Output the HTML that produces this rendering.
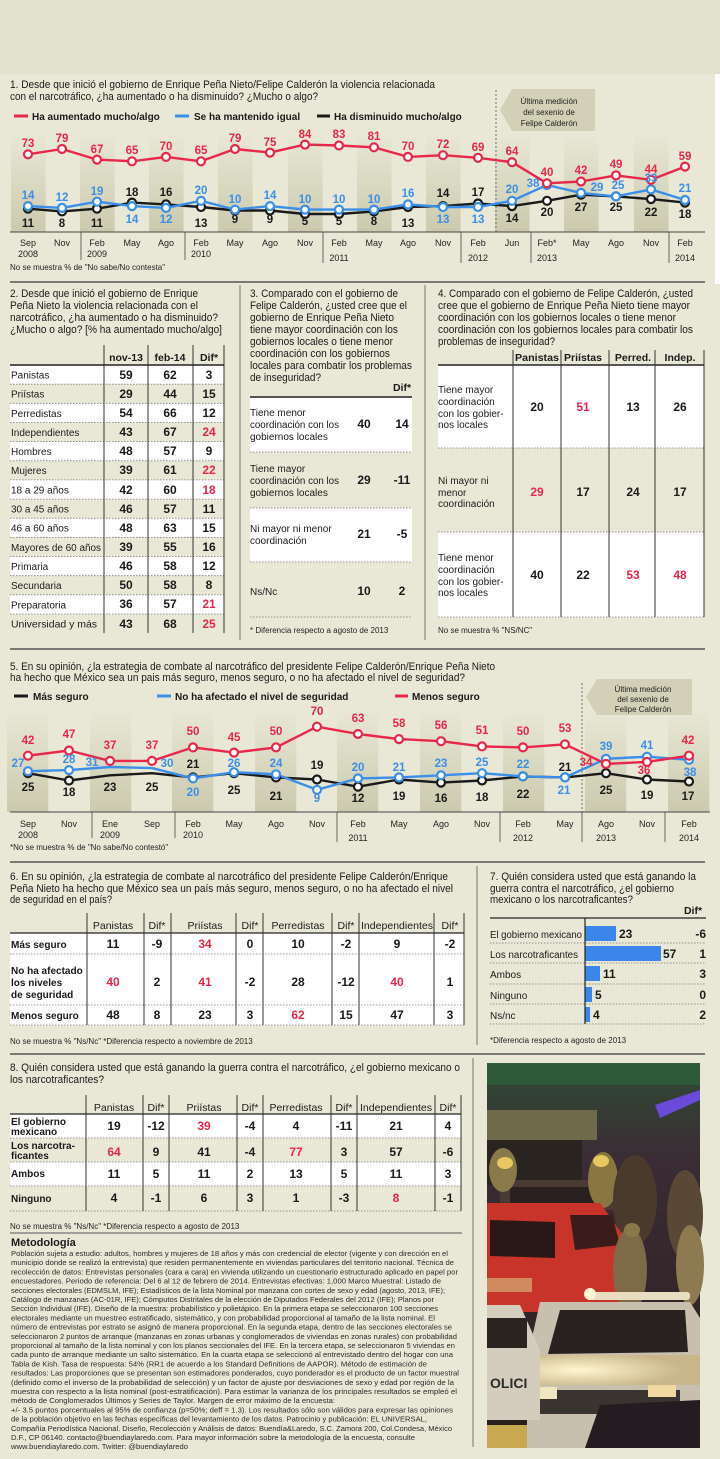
<!DOCTYPE html>
<html><head><meta charset="utf-8">
<style>
html,body{margin:0;padding:0;background:#e9e8d7;}
svg{display:block;font-family:"Liberation Sans Narrow","Liberation Sans",sans-serif;}
.t{font-size:11px;fill:#1a1a1a;}
.v{font-size:11.5px;font-weight:bold;text-anchor:middle;}
.m{font-size:9px;text-anchor:middle;fill:#222;}
.n{font-size:8px;fill:#222;}
.lg{font-size:10px;font-weight:bold;fill:#1a1a1a;}
.tb{font-size:10px;fill:#1a1a1a;}
.tv{font-size:12px;font-weight:bold;text-anchor:middle;fill:#1a1a1a;}
.th{font-size:10.5px;text-anchor:middle;fill:#1a1a1a;}
.me{font-size:7.6px;fill:#2a2a2a;}
text.r{fill:#e8274b;}text.b{fill:#3b8fe8;}text.k{fill:#1a1a1a;}
</style></head>
<body>
<svg width="720" height="1459" viewBox="0 0 720 1459" xmlns="http://www.w3.org/2000/svg">
<defs>
<linearGradient id="bd" x1="0" y1="0" x2="0" y2="1"><stop offset="0" stop-color="#e8e7d5"/><stop offset="1" stop-color="#cbcaae"/></linearGradient>
<linearGradient id="ph" x1="0" y1="0" x2="0" y2="1"><stop offset="0" stop-color="#2f4a34"/><stop offset="0.25" stop-color="#3b2c35"/><stop offset="1" stop-color="#2a1e1c"/></linearGradient>
<radialGradient id="glow" cx="0.3" cy="0.5" r="0.6"><stop offset="0" stop-color="#fff6d0"/><stop offset="1" stop-color="#c9b68a"/></radialGradient>
</defs>
<rect x="0" y="0" width="720" height="74" fill="#e3e2cf"/>
<rect x="715" y="74" width="5" height="210" fill="#fff"/>

<!-- ===== CHART 1 ===== -->
<text class="t" x="10" y="88" textLength="425" lengthAdjust="spacingAndGlyphs">1. Desde que inició el gobierno de Enrique Peña Nieto/Felipe Calderón la violencia relacionada</text>
<text class="t" x="10" y="100" textLength="308" lengthAdjust="spacingAndGlyphs">con el narcotráfico, ¿ha aumentado o ha disminuido? ¿Mucho o algo?</text>
<line x1="14" y1="116" x2="28" y2="116" stroke="#e8274b" stroke-width="3"/>
<text class="lg" x="32" y="120">Ha aumentado mucho/algo</text>
<line x1="175" y1="116" x2="189" y2="116" stroke="#3b8fe8" stroke-width="3"/>
<text class="lg" x="194" y="120">Se ha mantenido igual</text>
<line x1="317" y1="116" x2="330" y2="116" stroke="#1a1a1a" stroke-width="3"/>
<text class="lg" x="334" y="120">Ha disminuido mucho/algo</text>
<g fill="url(#bd)">
<rect x="11" y="135" width="34.6" height="97"/><rect x="80" y="135" width="34.6" height="97"/><rect x="149" y="135" width="34.6" height="97"/><rect x="218" y="135" width="34.6" height="97"/><rect x="288" y="135" width="34.6" height="97"/><rect x="357" y="135" width="34.6" height="97"/><rect x="426" y="135" width="34.6" height="97"/><rect x="495" y="135" width="34.6" height="97"/><rect x="564" y="135" width="34.6" height="97"/><rect x="634" y="135" width="34.6" height="97"/>
</g>
<line x1="496" y1="90" x2="496" y2="232" stroke="#555" stroke-width="0.8" stroke-dasharray="2,2"/>
<polygon points="500,110 512,89 595,89 595,131 512,131" fill="#d2d0b6"/>
<text class="n" x="549" y="104" text-anchor="middle" font-size="8.5">Última medición</text>
<text class="n" x="549" y="115" text-anchor="middle" font-size="8.5">del sexenio de</text>
<text class="n" x="549" y="126" text-anchor="middle" font-size="8.5">Felipe Calderón</text>
<line x1="10" y1="232" x2="705" y2="232" stroke="#444" stroke-width="1"/>
<g stroke="#444" stroke-width="0.8"><line x1="81" y1="232" x2="81" y2="260"/><line x1="185" y1="232" x2="185" y2="260"/><line x1="323" y1="232" x2="323" y2="263"/><line x1="461" y1="232" x2="461" y2="263"/><line x1="531" y1="232" x2="531" y2="263"/><line x1="669" y1="232" x2="669" y2="263"/></g>
<g class="m">
<text class="m" x="28" y="246">Sep</text><text class="m" x="62" y="246">Nov</text><text class="m" x="97" y="246">Feb</text><text class="m" x="132" y="246">May</text><text class="m" x="166" y="246">Ago</text><text class="m" x="201" y="246">Feb</text><text class="m" x="235" y="246">May</text><text class="m" x="270" y="246">Ago</text><text class="m" x="305" y="246">Nov</text><text class="m" x="339" y="246">Feb</text><text class="m" x="374" y="246">May</text><text class="m" x="408" y="246">Ago</text><text class="m" x="443" y="246">Nov</text><text class="m" x="478" y="246">Feb</text><text class="m" x="512" y="246">Jun</text><text class="m" x="547" y="246">Feb*</text><text class="m" x="581" y="246">May</text><text class="m" x="616" y="246">Ago</text><text class="m" x="651" y="246">Nov</text><text class="m" x="685" y="246">Feb</text>
<text class="m" x="28" y="257">2008</text><text class="m" x="97" y="257">2009</text><text class="m" x="201" y="257">2010</text><text class="m" x="339" y="261">2011</text><text class="m" x="478" y="261">2012</text><text class="m" x="547" y="261">2013</text><text class="m" x="685" y="261">2014</text>
</g>
<text class="n" x="10" y="270">No se muestra % de "No sabe/No contesta"</text>
<g fill="none" stroke-width="2.4" stroke-linejoin="round">
<polyline stroke="#1a1a1a" points="28,208.7 62,211.4 97,208.7 132,202.6 166,204.4 201,207 235,210.5 270,210.5 305,214 339,214 374,211.4 408,207 443,206.1 478,203.5 512,206.1 547,200.8 581,194.7 616,196.4 651,199.1 685,202.6"/>
<polyline stroke="#3b8fe8" points="28,206.1 62,207.9 97,201.7 132,206.1 166,207.9 201,200.8 235,209.6 270,206.1 305,209.6 339,209.6 374,209.6 408,204.4 443,207 478,207 512,200.8 547,185 581,192.9 616,196.4 651,189.4 685,200"/>
<polyline stroke="#e8274b" points="28,154.3 62,149 97,159.6 132,161.3 166,156.9 201,161.3 235,149 270,152.6 305,144.6 339,145.5 374,147.3 408,156.9 443,155.2 478,157.8 512,162.2 547,183.3 581,181.5 616,175.4 651,179.8 685,166.6"/>
</g>
<g fill="#fff" stroke-width="2.2">
<g stroke="#1a1a1a"><circle cx="28" cy="208.7" r="4"/><circle cx="62" cy="211.4" r="4"/><circle cx="97" cy="208.7" r="4"/><circle cx="132" cy="202.6" r="4"/><circle cx="166" cy="204.4" r="4"/><circle cx="201" cy="207" r="4"/><circle cx="235" cy="210.5" r="4"/><circle cx="270" cy="210.5" r="4"/><circle cx="305" cy="214" r="4"/><circle cx="339" cy="214" r="4"/><circle cx="374" cy="211.4" r="4"/><circle cx="408" cy="207" r="4"/><circle cx="443" cy="206.1" r="4"/><circle cx="478" cy="203.5" r="4"/><circle cx="512" cy="206.1" r="4"/><circle cx="547" cy="200.8" r="4"/><circle cx="581" cy="194.7" r="4"/><circle cx="616" cy="196.4" r="4"/><circle cx="651" cy="199.1" r="4"/><circle cx="685" cy="202.6" r="4"/></g>
<g stroke="#3b8fe8"><circle cx="28" cy="206.1" r="4"/><circle cx="62" cy="207.9" r="4"/><circle cx="97" cy="201.7" r="4"/><circle cx="132" cy="206.1" r="4"/><circle cx="166" cy="207.9" r="4"/><circle cx="201" cy="200.8" r="4"/><circle cx="235" cy="209.6" r="4"/><circle cx="270" cy="206.1" r="4"/><circle cx="305" cy="209.6" r="4"/><circle cx="339" cy="209.6" r="4"/><circle cx="374" cy="209.6" r="4"/><circle cx="408" cy="204.4" r="4"/><circle cx="443" cy="207" r="4"/><circle cx="478" cy="207" r="4"/><circle cx="512" cy="200.8" r="4"/><circle cx="547" cy="185" r="4"/><circle cx="581" cy="192.9" r="4"/><circle cx="616" cy="196.4" r="4"/><circle cx="651" cy="189.4" r="4"/><circle cx="685" cy="200" r="4"/></g>
<g stroke="#e8274b"><circle cx="28" cy="154.3" r="4"/><circle cx="62" cy="149" r="4"/><circle cx="97" cy="159.6" r="4"/><circle cx="132" cy="161.3" r="4"/><circle cx="166" cy="156.9" r="4"/><circle cx="201" cy="161.3" r="4"/><circle cx="235" cy="149" r="4"/><circle cx="270" cy="152.6" r="4"/><circle cx="305" cy="144.6" r="4"/><circle cx="339" cy="145.5" r="4"/><circle cx="374" cy="147.3" r="4"/><circle cx="408" cy="156.9" r="4"/><circle cx="443" cy="155.2" r="4"/><circle cx="478" cy="157.8" r="4"/><circle cx="512" cy="162.2" r="4"/><circle cx="547" cy="183.3" r="4"/><circle cx="581" cy="181.5" r="4"/><circle cx="616" cy="175.4" r="4"/><circle cx="651" cy="179.8" r="4"/><circle cx="685" cy="166.6" r="4"/></g>
</g>
<g class="v">
<text class="v r" x="28" y="147">73</text><text class="v r" x="62" y="142">79</text><text class="v r" x="97" y="153">67</text><text class="v r" x="132" y="154">65</text><text class="v r" x="166" y="150">70</text><text class="v r" x="201" y="154">65</text><text class="v r" x="235" y="142">79</text><text class="v r" x="270" y="146">75</text><text class="v r" x="305" y="138">84</text><text class="v r" x="339" y="138">83</text><text class="v r" x="374" y="140">81</text><text class="v r" x="408" y="150">70</text><text class="v r" x="443" y="148">72</text><text class="v r" x="478" y="151">69</text><text class="v r" x="512" y="155">64</text><text class="v r" x="547" y="176">40</text><text class="v r" x="581" y="174">42</text><text class="v r" x="616" y="168">49</text><text class="v r" x="651" y="173">44</text><text class="v r" x="685" y="160">59</text>
<text class="v b" x="28" y="199">14</text><text class="v b" x="62" y="201">12</text><text class="v b" x="97" y="195">19</text><text class="v b" x="132" y="223">14</text><text class="v b" x="166" y="223">12</text><text class="v b" x="201" y="194">20</text><text class="v b" x="235" y="203">10</text><text class="v b" x="270" y="199">14</text><text class="v b" x="305" y="203">10</text><text class="v b" x="339" y="203">10</text><text class="v b" x="374" y="203">10</text><text class="v b" x="408" y="197">16</text><text class="v b" x="443" y="223">13</text><text class="v b" x="478" y="223">13</text><text class="v b" x="512" y="193">20</text><text class="v b" x="533" y="187">38</text><text class="v b" x="597" y="191">29</text><text class="v b" x="618" y="189">25</text><text class="v b" x="651" y="182">33</text><text class="v b" x="685" y="192">21</text>
<text class="v k" x="28" y="227">11</text><text class="v k" x="62" y="227">8</text><text class="v k" x="97" y="227">11</text><text class="v k" x="132" y="196">18</text><text class="v k" x="166" y="196">16</text><text class="v k" x="201" y="227">13</text><text class="v k" x="235" y="223">9</text><text class="v k" x="270" y="223">9</text><text class="v k" x="305" y="225">5</text><text class="v k" x="339" y="225">5</text><text class="v k" x="374" y="225">8</text><text class="v k" x="408" y="227">13</text><text class="v k" x="443" y="197">14</text><text class="v k" x="478" y="196">17</text><text class="v k" x="512" y="222">14</text><text class="v k" x="547" y="216">20</text><text class="v k" x="581" y="211">27</text><text class="v k" x="616" y="211">25</text><text class="v k" x="651" y="216">22</text><text class="v k" x="685" y="218">18</text>
</g>

<!-- ===== SECTION 2-4 ===== -->
<line x1="10" y1="282" x2="705" y2="282" stroke="#555" stroke-width="1.5"/>
<line x1="240" y1="285" x2="240" y2="640" stroke="#555" stroke-width="0.8"/>
<line x1="425" y1="285" x2="425" y2="640" stroke="#555" stroke-width="0.8"/>
<text class="t" x="10" y="297" textLength="188" lengthAdjust="spacingAndGlyphs">2. Desde que inició el gobierno de Enrique</text>
<text class="t" x="10" y="309" textLength="188" lengthAdjust="spacingAndGlyphs">Peña Nieto la violencia relacionada con el</text>
<text class="t" x="10" y="321" textLength="208" lengthAdjust="spacingAndGlyphs">narcotráfico, ¿ha aumentado o ha disminuido?</text>
<text class="t" x="10" y="333" textLength="212" lengthAdjust="spacingAndGlyphs">¿Mucho o algo? [% ha aumentado mucho/algo]</text>
<g>
<rect x="10" y="365" width="214" height="19.15" fill="#fff"/><rect x="10" y="403.3" width="214" height="19.15" fill="#fff"/><rect x="10" y="441.6" width="214" height="19.15" fill="#fff"/><rect x="10" y="479.9" width="214" height="19.15" fill="#fff"/><rect x="10" y="518.2" width="214" height="19.15" fill="#fff"/><rect x="10" y="556.5" width="214" height="19.15" fill="#fff"/><rect x="10" y="594.8" width="214" height="19.15" fill="#fff"/>
</g>
<g stroke="#777" stroke-width="0.8" stroke-dasharray="1.5,1.5">
<line x1="10" y1="384.2" x2="224" y2="384.2"/><line x1="10" y1="403.3" x2="224" y2="403.3"/><line x1="10" y1="422.5" x2="224" y2="422.5"/><line x1="10" y1="441.6" x2="224" y2="441.6"/><line x1="10" y1="460.8" x2="224" y2="460.8"/><line x1="10" y1="479.9" x2="224" y2="479.9"/><line x1="10" y1="499.1" x2="224" y2="499.1"/><line x1="10" y1="518.2" x2="224" y2="518.2"/><line x1="10" y1="537.4" x2="224" y2="537.4"/><line x1="10" y1="556.5" x2="224" y2="556.5"/><line x1="10" y1="575.7" x2="224" y2="575.7"/><line x1="10" y1="594.8" x2="224" y2="594.8"/><line x1="10" y1="614" x2="224" y2="614"/>
</g>
<g stroke="#333" stroke-width="1"><line x1="104" y1="345" x2="104" y2="633"/><line x1="148" y1="345" x2="148" y2="633"/><line x1="193" y1="345" x2="193" y2="633"/><line x1="224" y1="345" x2="224" y2="633"/></g>
<line x1="10" y1="365" x2="224" y2="365" stroke="#222" stroke-width="1.5"/>
<text class="th" x="126" y="361" font-weight="bold">nov-13</text><text class="th" x="170" y="361" font-weight="bold">feb-14</text><text class="th" x="209" y="361" font-weight="bold">Dif*</text>
<g>
<text x="11" y="378.5" class="tb">Panistas</text><text x="11" y="397.6" class="tb">Priístas</text><text x="11" y="416.8" class="tb">Perredistas</text><text x="11" y="435.9" class="tb">Independientes</text><text x="11" y="455.1" class="tb">Hombres</text><text x="11" y="474.2" class="tb">Mujeres</text><text x="11" y="493.4" class="tb">18 a 29 años</text><text x="11" y="512.5" class="tb">30 a 45 años</text><text x="11" y="531.7" class="tb">46 a 60 años</text><text x="11" y="550.8" class="tb" textLength="90" lengthAdjust="spacingAndGlyphs">Mayores de 60 años</text><text x="11" y="570" class="tb">Primaria</text><text x="11" y="589.1" class="tb">Secundaria</text><text x="11" y="608.3" class="tb">Preparatoria</text><text x="11" y="627.4" class="tb" textLength="86" lengthAdjust="spacingAndGlyphs">Universidad y más</text>
</g>
<g>
<text class="tv" x="126" y="379">59</text><text class="tv" x="170" y="379">62</text><text class="tv" x="209" y="379">3</text>
<text class="tv" x="126" y="398">29</text><text class="tv" x="170" y="398">44</text><text class="tv" x="209" y="398">15</text>
<text class="tv" x="126" y="417">54</text><text class="tv" x="170" y="417">66</text><text class="tv" x="209" y="417">12</text>
<text class="tv" x="126" y="436">43</text><text class="tv" x="170" y="436">67</text><text class="tv r" x="209" y="436">24</text>
<text class="tv" x="126" y="455">48</text><text class="tv" x="170" y="455">57</text><text class="tv" x="209" y="455">9</text>
<text class="tv" x="126" y="474">39</text><text class="tv" x="170" y="474">61</text><text class="tv r" x="209" y="474">22</text>
<text class="tv" x="126" y="494">42</text><text class="tv" x="170" y="494">60</text><text class="tv r" x="209" y="494">18</text>
<text class="tv" x="126" y="513">46</text><text class="tv" x="170" y="513">57</text><text class="tv" x="209" y="513">11</text>
<text class="tv" x="126" y="532">48</text><text class="tv" x="170" y="532">63</text><text class="tv" x="209" y="532">15</text>
<text class="tv" x="126" y="551">39</text><text class="tv" x="170" y="551">55</text><text class="tv" x="209" y="551">16</text>
<text class="tv" x="126" y="570">46</text><text class="tv" x="170" y="570">58</text><text class="tv" x="209" y="570">12</text>
<text class="tv" x="126" y="589">50</text><text class="tv" x="170" y="589">58</text><text class="tv" x="209" y="589">8</text>
<text class="tv" x="126" y="608">36</text><text class="tv" x="170" y="608">57</text><text class="tv r" x="209" y="608">21</text>
<text class="tv" x="126" y="628">43</text><text class="tv" x="170" y="628">68</text><text class="tv r" x="209" y="628">25</text>
</g>

<!-- Section 3 -->
<text class="t" x="250" y="297" textLength="148" lengthAdjust="spacingAndGlyphs">3. Comparado con el gobierno de</text>
<text class="t" x="250" y="309" textLength="157" lengthAdjust="spacingAndGlyphs">Felipe Calderón, ¿usted cree que el</text>
<text class="t" x="250" y="321" textLength="144" lengthAdjust="spacingAndGlyphs">gobierno de Enrique Peña Nieto</text>
<text class="t" x="250" y="333" textLength="148" lengthAdjust="spacingAndGlyphs">tiene mayor coordinación con los</text>
<text class="t" x="250" y="345" textLength="143" lengthAdjust="spacingAndGlyphs">gobiernos locales o tiene menor</text>
<text class="t" x="250" y="357" textLength="140" lengthAdjust="spacingAndGlyphs">coordinación con los gobiernos</text>
<text class="t" x="250" y="369" textLength="162" lengthAdjust="spacingAndGlyphs">locales para combatir los problemas</text>
<text class="t" x="250" y="381" textLength="71" lengthAdjust="spacingAndGlyphs">de inseguridad?</text>
<text class="th" x="402" y="391" font-weight="bold">Dif*</text>
<rect x="250" y="397" width="162" height="55" fill="#fff"/><rect x="250" y="508" width="162" height="54" fill="#fff"/>
<line x1="250" y1="397" x2="412" y2="397" stroke="#222" stroke-width="1.5"/>
<g stroke="#777" stroke-width="0.8" stroke-dasharray="1.5,1.5"><line x1="250" y1="452" x2="412" y2="452"/><line x1="250" y1="508" x2="412" y2="508"/><line x1="250" y1="562" x2="412" y2="562"/><line x1="250" y1="617" x2="412" y2="617"/></g>
<text class="tb" x="250" y="416">Tiene menor</text><text class="tb" x="250" y="428" textLength="89" lengthAdjust="spacingAndGlyphs">coordinación con los</text><text class="tb" x="250" y="440">gobiernos locales</text>
<text class="tv" x="364" y="428">40</text><text class="tv" x="402" y="428">14</text>
<text class="tb" x="250" y="472">Tiene mayor</text><text class="tb" x="250" y="484" textLength="89" lengthAdjust="spacingAndGlyphs">coordinación con los</text><text class="tb" x="250" y="496">gobiernos locales</text>
<text class="tv" x="364" y="484">29</text><text class="tv" x="402" y="484">-11</text>
<text class="tb" x="250" y="532">Ni mayor ni menor</text><text class="tb" x="250" y="544">coordinación</text>
<text class="tv" x="364" y="538">21</text><text class="tv" x="402" y="538">-5</text>
<text class="tb" x="250" y="595">Ns/Nc</text>
<text class="tv" x="364" y="595">10</text><text class="tv" x="402" y="595">2</text>
<text class="n" x="250" y="633">* Diferencia respecto a agosto de 2013</text>

<!-- Section 4 -->
<text class="t" x="438" y="297" textLength="255" lengthAdjust="spacingAndGlyphs">4. Comparado con el gobierno de Felipe Calderón, ¿usted</text>
<text class="t" x="438" y="309" textLength="252" lengthAdjust="spacingAndGlyphs">cree que el gobierno de Enrique Peña Nieto tiene mayor</text>
<text class="t" x="438" y="321" textLength="238" lengthAdjust="spacingAndGlyphs">coordinación con los gobiernos locales o tiene menor</text>
<text class="t" x="438" y="333" textLength="255" lengthAdjust="spacingAndGlyphs">coordinación con los gobiernos locales para combatir los</text>
<text class="t" x="438" y="345" textLength="117" lengthAdjust="spacingAndGlyphs">problemas de inseguridad?</text>
<rect x="438" y="365" width="266" height="83" fill="#fff"/><rect x="438" y="532" width="266" height="85" fill="#fff"/>
<line x1="438" y1="365" x2="704" y2="365" stroke="#222" stroke-width="1.5"/>
<g stroke="#777" stroke-width="0.8" stroke-dasharray="1.5,1.5"><line x1="438" y1="448" x2="704" y2="448"/><line x1="438" y1="532" x2="704" y2="532"/><line x1="438" y1="617" x2="704" y2="617"/></g>
<g stroke="#333" stroke-width="1"><line x1="513" y1="350" x2="513" y2="617"/><line x1="561" y1="350" x2="561" y2="617"/><line x1="609" y1="350" x2="609" y2="617"/><line x1="655" y1="350" x2="655" y2="617"/><line x1="704" y1="350" x2="704" y2="617"/></g>
<text class="th" x="537" y="361" font-weight="bold" textLength="44" lengthAdjust="spacingAndGlyphs">Panistas</text><text class="th" x="583" y="361" font-weight="bold">Priístas</text><text class="th" x="633" y="361" font-weight="bold">Perred.</text><text class="th" x="680" y="361" font-weight="bold">Indep.</text>
<text class="tb" x="438" y="393">Tiene mayor</text><text class="tb" x="438" y="405">coordinación</text><text class="tb" x="438" y="417">con los gobier-</text><text class="tb" x="438" y="428">nos locales</text>
<text class="tv" x="537" y="411">20</text><text class="tv r" x="583" y="411">51</text><text class="tv" x="633" y="411">13</text><text class="tv" x="680" y="411">26</text>
<text class="tb" x="438" y="484">Ni mayor ni</text><text class="tb" x="438" y="496">menor</text><text class="tb" x="438" y="507">coordinación</text>
<text class="tv r" x="537" y="496">29</text><text class="tv" x="583" y="496">17</text><text class="tv" x="633" y="496">24</text><text class="tv" x="680" y="496">17</text>
<text class="tb" x="438" y="561">Tiene menor</text><text class="tb" x="438" y="573">coordinación</text><text class="tb" x="438" y="585">con los gobier-</text><text class="tb" x="438" y="596">nos locales</text>
<text class="tv" x="537" y="579">40</text><text class="tv" x="583" y="579">22</text><text class="tv r" x="633" y="579">53</text><text class="tv r" x="680" y="579">48</text>
<text class="n" x="438" y="633">No se muestra % "NS/NC"</text>

<!-- ===== CHART 5 ===== -->
<line x1="10" y1="649" x2="705" y2="649" stroke="#555" stroke-width="1.5"/>
<text class="t" x="10" y="670" textLength="485" lengthAdjust="spacingAndGlyphs">5. En su opinión, ¿la estrategia de combate al narcotráfico del presidente Felipe Calderón/Enrique Peña Nieto</text>
<text class="t" x="10" y="681" textLength="455" lengthAdjust="spacingAndGlyphs">ha hecho que México sea un pais más seguro, menos seguro, o no ha afectado el nivel de seguridad?</text>
<line x1="14" y1="696" x2="28" y2="696" stroke="#1a1a1a" stroke-width="3"/>
<text class="lg" x="33" y="700">Más seguro</text>
<line x1="157" y1="696" x2="171" y2="696" stroke="#3b8fe8" stroke-width="3"/>
<text class="lg" x="175" y="700">No ha afectado el nivel de seguridad</text>
<line x1="395" y1="696" x2="408" y2="696" stroke="#e8274b" stroke-width="3"/>
<text class="lg" x="412" y="700">Menos seguro</text>
<g fill="url(#bd)">
<rect x="7" y="712" width="41.3" height="100"/><rect x="90" y="712" width="41.3" height="100"/><rect x="172" y="712" width="41.3" height="100"/><rect x="255" y="712" width="41.3" height="100"/><rect x="337" y="712" width="41.3" height="100"/><rect x="420" y="712" width="41.3" height="100"/><rect x="503" y="712" width="41.3" height="100"/><rect x="585" y="712" width="41.3" height="100"/><rect x="668" y="712" width="41.3" height="100"/>
</g>
<line x1="582" y1="683" x2="582" y2="812" stroke="#555" stroke-width="0.8" stroke-dasharray="2,2"/>
<polygon points="586,697 597,679 692,679 692,715 597,715" fill="#d2d0b6"/>
<text class="n" x="643" y="692" text-anchor="middle" font-size="8.5">Última medición</text>
<text class="n" x="643" y="702" text-anchor="middle" font-size="8.5">del sexenio de</text>
<text class="n" x="643" y="712" text-anchor="middle" font-size="8.5">Felipe Calderón</text>
<line x1="10" y1="812" x2="710" y2="812" stroke="#444" stroke-width="1"/>
<g stroke="#444" stroke-width="0.8"><line x1="92" y1="812" x2="92" y2="838"/><line x1="175" y1="812" x2="175" y2="838"/><line x1="337" y1="812" x2="337" y2="842"/><line x1="500" y1="812" x2="500" y2="842"/><line x1="582" y1="812" x2="582" y2="842"/><line x1="665" y1="812" x2="665" y2="842"/></g>
<text class="m" x="28" y="827">Sep</text><text class="m" x="69" y="827">Nov</text><text class="m" x="110" y="827">Ene</text><text class="m" x="152" y="827">Sep</text><text class="m" x="193" y="827">Feb</text><text class="m" x="234" y="827">May</text><text class="m" x="276" y="827">Ago</text><text class="m" x="317" y="827">Nov</text><text class="m" x="358" y="827">Feb</text><text class="m" x="399" y="827">May</text><text class="m" x="441" y="827">Ago</text><text class="m" x="482" y="827">Nov</text><text class="m" x="523" y="827">Feb</text><text class="m" x="565" y="827">May</text><text class="m" x="606" y="827">Ago</text><text class="m" x="647" y="827">Nov</text><text class="m" x="689" y="827">Feb</text>
<text class="m" x="28" y="838">2008</text><text class="m" x="110" y="838">2009</text><text class="m" x="193" y="838">2010</text><text class="m" x="358" y="841">2011</text><text class="m" x="523" y="841">2012</text><text class="m" x="606" y="841">2013</text><text class="m" x="689" y="841">2014</text>
<text class="n" x="10" y="850">*No se muestra % de "No sabe/No contestó"</text>
<g fill="none" stroke-width="2.4" stroke-linejoin="round">
<polyline stroke="#1a1a1a" points="28,773.2 69,780.5 110,775.3 152,773.2 193,777.4 234,773.2 276,777.4 317,779.5 358,786.7 399,779.5 441,782.6 482,780.5 523,776.4 565,777.4 606,773.2 647,779.5 689,781.5"/>
<polyline stroke="#3b8fe8" points="28,771.2 69,770.1 110,767 152,768.1 193,778.4 234,772.2 276,774.3 317,789.8 358,778.4 399,777.4 441,775.3 482,773.2 523,776.4 565,777.4 606,758.8 647,756.7 689,759.8"/>
<polyline stroke="#e8274b" points="28,755.7 69,750.5 110,760.9 152,760.9 193,747.4 234,752.6 276,747.4 317,726.7 358,734 399,739.1 441,741.2 482,746.4 523,747.4 565,744.3 606,763.9 647,761.9 689,755.7"/>
</g>
<g fill="#fff" stroke-width="2.2">
<g stroke="#1a1a1a"><circle cx="28" cy="773.2" r="4"/><circle cx="69" cy="780.5" r="4"/><circle cx="193" cy="777.4" r="4"/><circle cx="234" cy="773.2" r="4"/><circle cx="276" cy="777.4" r="4"/><circle cx="317" cy="779.5" r="4"/><circle cx="358" cy="786.7" r="4"/><circle cx="399" cy="779.5" r="4"/><circle cx="441" cy="782.6" r="4"/><circle cx="482" cy="780.5" r="4"/><circle cx="523" cy="776.4" r="4"/><circle cx="565" cy="777.4" r="4"/><circle cx="606" cy="773.2" r="4"/><circle cx="647" cy="779.5" r="4"/><circle cx="689" cy="781.5" r="4"/></g>
<g stroke="#3b8fe8"><circle cx="28" cy="771.2" r="4"/><circle cx="69" cy="770.1" r="4"/><circle cx="193" cy="778.4" r="4"/><circle cx="234" cy="772.2" r="4"/><circle cx="276" cy="774.3" r="4"/><circle cx="317" cy="789.8" r="4"/><circle cx="358" cy="778.4" r="4"/><circle cx="399" cy="777.4" r="4"/><circle cx="441" cy="775.3" r="4"/><circle cx="482" cy="773.2" r="4"/><circle cx="523" cy="776.4" r="4"/><circle cx="565" cy="777.4" r="4"/><circle cx="606" cy="758.8" r="4"/><circle cx="647" cy="756.7" r="4"/><circle cx="689" cy="759.8" r="4"/></g>
<g stroke="#e8274b"><circle cx="28" cy="755.7" r="4"/><circle cx="69" cy="750.5" r="4"/><circle cx="110" cy="760.9" r="4"/><circle cx="152" cy="760.9" r="4"/><circle cx="193" cy="747.4" r="4"/><circle cx="234" cy="752.6" r="4"/><circle cx="276" cy="747.4" r="4"/><circle cx="317" cy="726.7" r="4"/><circle cx="358" cy="734" r="4"/><circle cx="399" cy="739.1" r="4"/><circle cx="441" cy="741.2" r="4"/><circle cx="482" cy="746.4" r="4"/><circle cx="523" cy="747.4" r="4"/><circle cx="565" cy="744.3" r="4"/><circle cx="606" cy="763.9" r="4"/><circle cx="647" cy="761.9" r="4"/><circle cx="689" cy="755.7" r="4"/></g>
</g>
<text class="v r" x="28" y="744">42</text><text class="v r" x="69" y="738">47</text><text class="v r" x="110" y="749">37</text><text class="v r" x="152" y="749">37</text><text class="v r" x="193" y="735">50</text><text class="v r" x="234" y="741">45</text><text class="v r" x="276" y="735">50</text><text class="v r" x="317" y="715">70</text><text class="v r" x="358" y="722">63</text><text class="v r" x="399" y="727">58</text><text class="v r" x="441" y="729">56</text><text class="v r" x="482" y="734">51</text><text class="v r" x="523" y="735">50</text><text class="v r" x="565" y="732">53</text><text class="v r" x="586" y="766">34</text><text class="v r" x="644" y="774">36</text><text class="v r" x="688" y="744">42</text>
<text class="v b" x="18" y="767">27</text><text class="v b" x="69" y="763">28</text><text class="v b" x="92" y="766">31</text><text class="v b" x="167" y="767">30</text><text class="v b" x="193" y="796">20</text><text class="v b" x="234" y="767">26</text><text class="v b" x="276" y="767">24</text><text class="v b" x="317" y="802">9</text><text class="v b" x="358" y="771">20</text><text class="v b" x="399" y="771">21</text><text class="v b" x="441" y="767">23</text><text class="v b" x="482" y="766">25</text><text class="v b" x="523" y="768">22</text><text class="v b" x="564" y="794">21</text><text class="v b" x="606" y="750">39</text><text class="v b" x="647" y="749">41</text><text class="v b" x="690" y="776">38</text>
<text class="v k" x="28" y="791">25</text><text class="v k" x="69" y="796">18</text><text class="v k" x="110" y="791">23</text><text class="v k" x="152" y="791">25</text><text class="v k" x="193" y="768">21</text><text class="v k" x="234" y="794">25</text><text class="v k" x="276" y="800">21</text><text class="v k" x="317" y="769">19</text><text class="v k" x="358" y="802">12</text><text class="v k" x="399" y="800">19</text><text class="v k" x="441" y="802">16</text><text class="v k" x="482" y="801">18</text><text class="v k" x="523" y="798">22</text><text class="v k" x="565" y="771">21</text><text class="v k" x="606" y="794">25</text><text class="v k" x="647" y="799">19</text><text class="v k" x="688" y="800">17</text>

<!-- ===== SECTION 6 ===== -->
<line x1="10" y1="862" x2="705" y2="862" stroke="#555" stroke-width="1.5"/>
<line x1="477" y1="866" x2="477" y2="1045" stroke="#555" stroke-width="0.8"/>
<text class="t" x="10" y="880" textLength="438" lengthAdjust="spacingAndGlyphs">6. En su opinión, ¿la estrategia de combate al narcotráfico del presidente Felipe Calderón/Enrique</text>
<text class="t" x="10" y="892" textLength="443" lengthAdjust="spacingAndGlyphs">Peña Nieto ha hecho que México sea un país más seguro, menos seguro, o no ha afectado el nivel</text>
<text class="t" x="10" y="903" textLength="102" lengthAdjust="spacingAndGlyphs">de seguridad en el país?</text>
<rect x="10" y="933" width="454" height="92" fill="#fff"/>
<line x1="10" y1="933" x2="464" y2="933" stroke="#222" stroke-width="1.2"/>
<g stroke="#777" stroke-width="0.8" stroke-dasharray="1.5,1.5"><line x1="10" y1="954" x2="464" y2="954"/><line x1="10" y1="1005" x2="464" y2="1005"/><line x1="10" y1="1025" x2="464" y2="1025"/></g>
<g stroke="#333" stroke-width="1"><line x1="87" y1="913" x2="87" y2="1025"/><line x1="144" y1="913" x2="144" y2="1025"/><line x1="171" y1="913" x2="171" y2="1025"/><line x1="236" y1="913" x2="236" y2="1025"/><line x1="263" y1="913" x2="263" y2="1025"/><line x1="332" y1="913" x2="332" y2="1025"/><line x1="359" y1="913" x2="359" y2="1025"/><line x1="434" y1="913" x2="434" y2="1025"/><line x1="464" y1="913" x2="464" y2="1025"/></g>
<text class="th" x="113" y="929">Panistas</text><text class="th" x="157" y="929">Dif*</text><text class="th" x="205" y="929">Priístas</text><text class="th" x="250" y="929">Dif*</text><text class="th" x="298" y="929">Perredistas</text><text class="th" x="346" y="929">Dif*</text><text class="th" x="397" y="929" textLength="72" lengthAdjust="spacingAndGlyphs">Independientes</text><text class="th" x="450" y="929">Dif*</text>
<text class="tb" x="11" y="948" font-weight="bold">Más seguro</text>
<text class="tb" x="11" y="974" font-weight="bold">No ha afectado</text><text class="tb" x="11" y="986" font-weight="bold">los niveles</text><text class="tb" x="11" y="998" font-weight="bold">de seguridad</text>
<text class="tb" x="11" y="1019" font-weight="bold">Menos seguro</text>
<text class="tv" x="113" y="948">11</text><text class="tv" x="157" y="948">-9</text><text class="tv r" x="205" y="948">34</text><text class="tv" x="250" y="948">0</text><text class="tv" x="298" y="948">10</text><text class="tv" x="346" y="948">-2</text><text class="tv" x="397" y="948">9</text><text class="tv" x="450" y="948">-2</text>
<text class="tv r" x="113" y="986">40</text><text class="tv" x="157" y="986">2</text><text class="tv r" x="205" y="986">41</text><text class="tv" x="250" y="986">-2</text><text class="tv" x="298" y="986">28</text><text class="tv" x="346" y="986">-12</text><text class="tv r" x="397" y="986">40</text><text class="tv" x="450" y="986">1</text>
<text class="tv" x="113" y="1019">48</text><text class="tv" x="157" y="1019">8</text><text class="tv" x="205" y="1019">23</text><text class="tv" x="250" y="1019">3</text><text class="tv r" x="298" y="1019">62</text><text class="tv" x="346" y="1019">15</text><text class="tv" x="397" y="1019">47</text><text class="tv" x="450" y="1019">3</text>
<text class="n" x="10" y="1044">No se muestra % "Ns/Nc"     *Diferencia respecto a noviembre de 2013</text>

<!-- Section 7 -->
<text class="t" x="490" y="880" textLength="206" lengthAdjust="spacingAndGlyphs">7. Quién considera usted que está ganando la</text>
<text class="t" x="490" y="892" textLength="184" lengthAdjust="spacingAndGlyphs">guerra contra el narcotráfico, ¿el gobierno</text>
<text class="t" x="490" y="903" textLength="143" lengthAdjust="spacingAndGlyphs">mexicano o los narcotraficantes?</text>
<text class="th" x="693" y="914" font-weight="bold">Dif*</text>
<line x1="490" y1="918" x2="706" y2="918" stroke="#222" stroke-width="1.2"/>
<g stroke="#777" stroke-width="0.8" stroke-dasharray="1.5,1.5"><line x1="490" y1="943" x2="706" y2="943"/><line x1="490" y1="963" x2="706" y2="963"/><line x1="490" y1="984" x2="706" y2="984"/><line x1="490" y1="1004" x2="706" y2="1004"/><line x1="490" y1="1024" x2="706" y2="1024"/></g>
<g fill="#3a86ea"><rect x="585" y="926" width="31" height="15"/><rect x="585" y="946" width="76" height="15"/><rect x="585" y="966" width="15" height="15"/><rect x="585" y="987" width="7" height="15"/><rect x="585" y="1007" width="5" height="15"/></g>
<line x1="585" y1="918" x2="585" y2="1024" stroke="#222" stroke-width="1.2"/>
<text class="tb" x="490" y="938" textLength="92" lengthAdjust="spacingAndGlyphs">El gobierno mexicano</text><text class="tb" x="490" y="958" textLength="88" lengthAdjust="spacingAndGlyphs">Los narcotraficantes</text><text class="tb" x="490" y="978">Ambos</text><text class="tb" x="490" y="999">Ninguno</text><text class="tb" x="490" y="1019">Ns/nc</text>
<g font-weight="bold" font-size="12" fill="#1a1a1a"><text x="619" y="938">23</text><text x="663" y="958">57</text><text x="603" y="978">11</text><text x="595" y="999">5</text><text x="593" y="1019">4</text></g>
<g font-weight="bold" font-size="12" fill="#1a1a1a" text-anchor="end"><text x="706" y="938">-6</text><text x="706" y="958">1</text><text x="706" y="978">3</text><text x="706" y="999">0</text><text x="706" y="1019">2</text></g>
<text class="n" x="490" y="1043">*Diferencia respecto a agosto de 2013</text>

<!-- ===== SECTION 8 ===== -->
<line x1="10" y1="1054" x2="705" y2="1054" stroke="#555" stroke-width="1.5"/>
<line x1="473" y1="1058" x2="473" y2="1447" stroke="#555" stroke-width="0.8"/>
<text class="t" x="10" y="1071" textLength="450" lengthAdjust="spacingAndGlyphs">8. Quién considera usted que está ganando la guerra contra el narcotráfico, ¿el gobierno mexicano o</text>
<text class="t" x="10" y="1083" textLength="94" lengthAdjust="spacingAndGlyphs">los narcotraficantes?</text>
<rect x="10" y="1114" width="451" height="24" fill="#fff"/><rect x="10" y="1162" width="451" height="24" fill="#fff"/>
<line x1="10" y1="1114" x2="461" y2="1114" stroke="#222" stroke-width="1.2"/>
<g stroke="#777" stroke-width="0.8" stroke-dasharray="1.5,1.5"><line x1="10" y1="1138" x2="461" y2="1138"/><line x1="10" y1="1162" x2="461" y2="1162"/><line x1="10" y1="1186" x2="461" y2="1186"/><line x1="10" y1="1211" x2="461" y2="1211"/></g>
<g stroke="#333" stroke-width="1"><line x1="86" y1="1095" x2="86" y2="1211"/><line x1="143" y1="1095" x2="143" y2="1211"/><line x1="169" y1="1095" x2="169" y2="1211"/><line x1="237" y1="1095" x2="237" y2="1211"/><line x1="263" y1="1095" x2="263" y2="1211"/><line x1="331" y1="1095" x2="331" y2="1211"/><line x1="357" y1="1095" x2="357" y2="1211"/><line x1="435" y1="1095" x2="435" y2="1211"/><line x1="461" y1="1095" x2="461" y2="1211"/></g>
<text class="th" x="114" y="1111">Panistas</text><text class="th" x="156" y="1111">Dif*</text><text class="th" x="204" y="1111">Priístas</text><text class="th" x="250" y="1111">Dif*</text><text class="th" x="296" y="1111">Perredistas</text><text class="th" x="344" y="1111">Dif*</text><text class="th" x="396" y="1111" textLength="72" lengthAdjust="spacingAndGlyphs">Independientes</text><text class="th" x="448" y="1111">Dif*</text>
<text class="tb" x="11" y="1125" font-weight="bold" font-size="11">El gobierno</text><text class="tb" x="11" y="1135" font-weight="bold" font-size="11">mexicano</text>
<text class="tb" x="11" y="1149" font-weight="bold" font-size="11">Los narcotra-</text><text class="tb" x="11" y="1159" font-weight="bold" font-size="11">ficantes</text>
<text class="tb" x="11" y="1177" font-weight="bold" font-size="11">Ambos</text>
<text class="tb" x="11" y="1202" font-weight="bold" font-size="11">Ninguno</text>
<text class="tv" x="114" y="1130">19</text><text class="tv" x="156" y="1130">-12</text><text class="tv r" x="204" y="1130">39</text><text class="tv" x="250" y="1130">-4</text><text class="tv" x="296" y="1130">4</text><text class="tv" x="344" y="1130">-11</text><text class="tv" x="396" y="1130">21</text><text class="tv" x="448" y="1130">4</text>
<text class="tv r" x="114" y="1156">64</text><text class="tv" x="156" y="1156">9</text><text class="tv" x="204" y="1156">41</text><text class="tv" x="250" y="1156">-4</text><text class="tv r" x="296" y="1156">77</text><text class="tv" x="344" y="1156">3</text><text class="tv" x="396" y="1156">57</text><text class="tv" x="448" y="1156">-6</text>
<text class="tv" x="114" y="1178">11</text><text class="tv" x="156" y="1178">5</text><text class="tv" x="204" y="1178">11</text><text class="tv" x="250" y="1178">2</text><text class="tv" x="296" y="1178">13</text><text class="tv" x="344" y="1178">5</text><text class="tv" x="396" y="1178">11</text><text class="tv" x="448" y="1178">3</text>
<text class="tv" x="114" y="1202">4</text><text class="tv" x="156" y="1202">-1</text><text class="tv" x="204" y="1202">6</text><text class="tv" x="250" y="1202">3</text><text class="tv" x="296" y="1202">1</text><text class="tv" x="344" y="1202">-3</text><text class="tv r" x="396" y="1202">8</text><text class="tv" x="448" y="1202">-1</text>
<text class="n" x="10" y="1229">No se muestra % "Ns/Nc"     *Diferencia respecto a agosto de 2013</text>
<line x1="10" y1="1233" x2="462" y2="1233" stroke="#555" stroke-width="1"/>
<text x="11" y="1246" font-size="11" font-weight="bold" fill="#1a1a1a">Metodología</text>
<g class="me">
<text class="me" x="11" y="1256" textLength="437" lengthAdjust="spacingAndGlyphs">Población sujeta a estudio: adultos, hombres y mujeres de 18 años y más con credencial de elector (vigente y con dirección en el</text>
<text class="me" x="11" y="1265.2" textLength="443" lengthAdjust="spacingAndGlyphs">municipio donde se realizó la entrevista) que residen permanentemente en viviendas particulares del territorio nacional. Técnica de</text>
<text class="me" x="11" y="1274.4" textLength="447" lengthAdjust="spacingAndGlyphs">recolección de datos: Entrevistas personales (cara a cara) en vivienda utilizando un cuestionario estructurado aplicado en papel por</text>
<text class="me" x="11" y="1283.6" textLength="430" lengthAdjust="spacingAndGlyphs">encuestadores. Periodo de referencia: Del 6 al 12 de febrero de 2014. Entrevistas efectivas: 1,000 Marco Muestral: Listado de</text>
<text class="me" x="11" y="1292.8" textLength="434" lengthAdjust="spacingAndGlyphs">secciones electorales (EDMSLM, IFE); Estadísticos de la lista Nominal por manzana con cortes de sexo y edad (agosto, 2013, IFE);</text>
<text class="me" x="11" y="1302" textLength="423" lengthAdjust="spacingAndGlyphs">Catálogo de manzanas (AC-01R, IFE); Cómputos Distritales de la elección de Diputados Federales del 2012 (IFE); Planos por</text>
<text class="me" x="11" y="1311.2" textLength="427" lengthAdjust="spacingAndGlyphs">Sección Individual (IFE). Diseño de la muestra: probabilístico y polietápico. En la primera etapa se seleccionaron 100 secciones</text>
<text class="me" x="11" y="1320.4" textLength="424" lengthAdjust="spacingAndGlyphs">electorales mediante un muestreo estratificado, sistemático, y con probabilidad proporcional al tamaño de la lista nominal. El</text>
<text class="me" x="11" y="1329.6" textLength="441" lengthAdjust="spacingAndGlyphs">número de entrevistas por estrato se asignó de manera proporcional. En la segunda etapa, dentro de las secciones electorales se</text>
<text class="me" x="11" y="1338.8" textLength="446" lengthAdjust="spacingAndGlyphs">seleccionaron 2 puntos de arranque (manzanas en zonas urbanas y conglomerados de viviendas en zonas rurales) con probabilidad</text>
<text class="me" x="11" y="1348" textLength="444" lengthAdjust="spacingAndGlyphs">proporcional al tamaño de la lista nominal y con los planos seccionales del IFE. En la tercera etapa, se seleccionaron 5 viviendas en</text>
<text class="me" x="11" y="1357.2" textLength="442" lengthAdjust="spacingAndGlyphs">cada punto de arranque mediante un salto sistemático. En la cuarta etapa se seleccionó al entrevistado dentro del hogar con una</text>
<text class="me" x="11" y="1366.4" textLength="416" lengthAdjust="spacingAndGlyphs">Tabla de Kish. Tasa de respuesta: 54% (RR1 de acuerdo a los Standard Definitions de AAPOR). Método de estimación de</text>
<text class="me" x="11" y="1375.6" textLength="448" lengthAdjust="spacingAndGlyphs">resultados: Las proporciones que se presentan son estimadores ponderados, cuyo ponderador es el producto de un factor muestral</text>
<text class="me" x="11" y="1384.8" textLength="443" lengthAdjust="spacingAndGlyphs">(definido como el inverso de la probabilidad de selección) y un factor de ajuste por desviaciones de sexo y edad por región de la</text>
<text class="me" x="11" y="1394" textLength="446" lengthAdjust="spacingAndGlyphs">muestra con respecto a la lista nominal (post-estratificación). Para estimar la varianza de los principales resultados se empleó el</text>
<text class="me" x="11" y="1403.2" textLength="324" lengthAdjust="spacingAndGlyphs">método de Conglomerados Últimos y Series de Taylor. Margen de error máximo de la encuesta:</text>
<text class="me" x="11" y="1412.4" textLength="442" lengthAdjust="spacingAndGlyphs">+/- 3.5 puntos porcentuales al 95% de confianza (p=50%; deff = 1.3). Los resultados sólo son válidos para expresar las opiniones</text>
<text class="me" x="11" y="1421.6" textLength="416" lengthAdjust="spacingAndGlyphs">de la población objetivo en las fechas específicas del levantamiento de los datos. Patrocinio y publicación: EL UNIVERSAL,</text>
<text class="me" x="11" y="1430.8" textLength="441" lengthAdjust="spacingAndGlyphs">Compañía Periodística Nacional. Diseño, Recolección y Análisis de datos: Buendía&amp;Laredo, S.C. Zamora 200, Col.Condesa, México</text>
<text class="me" x="11" y="1440" textLength="404" lengthAdjust="spacingAndGlyphs">D.F., CP 06140. contacto@buendiaylaredo.com. Para mayor información sobre la metodología de la encuesta, consulte</text>
<text class="me" x="11" y="1449.2" textLength="177" lengthAdjust="spacingAndGlyphs">www.buendiaylaredo.com. Twitter: @buendiaylaredo</text>
</g>

<!-- ===== PHOTO ===== -->
<g>
<rect x="487" y="1063" width="213" height="385" fill="url(#ph)"/>
<rect x="487" y="1063" width="213" height="22" fill="#2e5a3a"/>
<polygon points="655,1105 700,1090 700,1100 660,1118" fill="#6a4ad8"/>
<rect x="487" y="1110" width="110" height="30" fill="#6f6a4a"/>
<rect x="487" y="1140" width="95" height="45" fill="#2a2420"/>
<rect x="500" y="1180" width="118" height="30" rx="5" fill="#4a3a34"/>
<rect x="510" y="1187" width="100" height="16" fill="#2a2020"/>
<ellipse cx="503" cy="1170" rx="14" ry="22" fill="#8a7a4a"/>
<ellipse cx="505" cy="1163" rx="8" ry="6" fill="#e8c860"/>
<ellipse cx="603" cy="1180" rx="15" ry="28" fill="#8a7640"/>
<ellipse cx="601" cy="1161" rx="8" ry="6" fill="#e8c860"/>
<ellipse cx="635" cy="1200" rx="22" ry="45" fill="#4a3a2c"/>
<ellipse cx="685" cy="1215" rx="18" ry="45" fill="#5a4836"/>
<polygon points="487,1203 600,1203 623,1235 623,1310 560,1312 487,1312" fill="#c9342a"/>
<polygon points="490,1220 555,1222 555,1258 490,1256" fill="#2a1816"/>
<polygon points="570,1215 612,1215 620,1245 575,1250" fill="#3a1c1a"/>
<rect x="487" y="1278" width="45" height="14" fill="#d08a60"/>
<circle cx="560" cy="1320" r="14" fill="#1e1612"/>
<ellipse cx="630" cy="1270" rx="17" ry="42" fill="#7e6a46"/>
<ellipse cx="632" cy="1230" rx="8" ry="7" fill="#8a7848"/>
<ellipse cx="690" cy="1265" rx="14" ry="40" fill="#8e7a50"/>
<rect x="590" y="1292" width="100" height="8" rx="3" fill="#e8ddc0"/>
<polygon points="540,1302 690,1302 700,1318 700,1448 527,1448 527,1360" fill="#c8bfae"/>
<polygon points="560,1310 685,1310 688,1352 548,1354" fill="#2a2220"/>
<rect x="527" y="1355" width="173" height="30" fill="url(#glow)"/>
<rect x="530" y="1390" width="150" height="24" fill="#3a3430"/>
<rect x="535" y="1387" width="22" height="12" fill="#f0e6c0"/>
<rect x="648" y="1385" width="28" height="12" fill="#f0d8a0"/>
<polygon points="487,1305 520,1305 540,1350 540,1420 487,1420" fill="#d4ccbc"/>
<rect x="487" y="1318" width="40" height="30" fill="#2a2420"/>
<text x="490" y="1388" font-size="14" font-weight="bold" fill="#2a2a2a" font-family="Liberation Sans,sans-serif">OLICI</text>
<polygon points="600,1405 700,1400 700,1448 585,1448" fill="#241c20"/>
<rect x="487" y="1425" width="40" height="23" fill="#c8a850"/>
<circle cx="590" cy="1294" r="6" fill="#fff8d8"/>
</g>
</svg>
</body></html>
